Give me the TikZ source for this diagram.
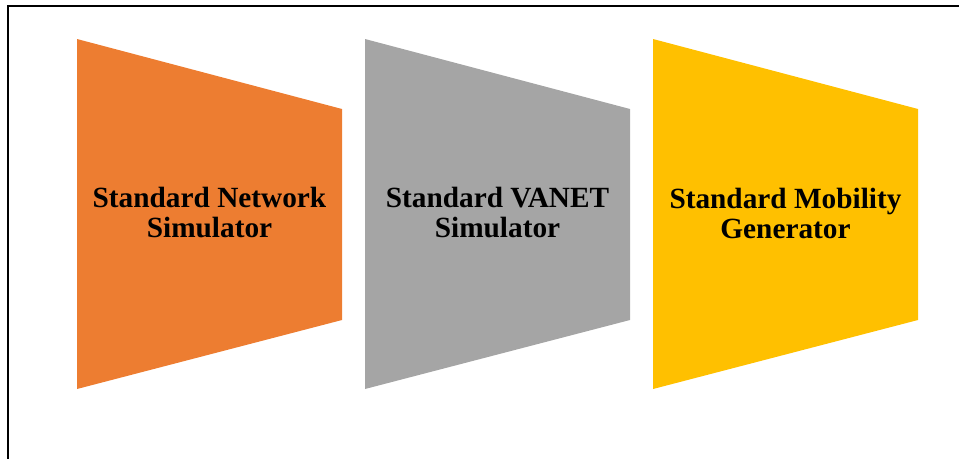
\documentclass[tikz,border=0pt]{standalone}
\usepackage{fontspec}
\setmainfont{Liberation Serif}
\definecolor{accOrange}{HTML}{ED7D31}
\definecolor{accGray}{HTML}{A5A5A5}
\definecolor{accGold}{HTML}{FFC000}
\begin{document}
\begin{tikzpicture}[x=1pt,y=-1pt,
  panel/.style={fill=#1,draw=none},
  caption/.style={font=\bfseries\fontsize{29.3}{30}\selectfont,align=center,text=black}]
\useasboundingbox (0,0) rectangle (959,459);
% frame: top and left rules
\draw[line width=1.6pt] (8,6) -- (959,6);
\draw[line width=2pt] (8,5.2) -- (8,459);
% three trapezoid panels
\fill[panel=accOrange] (77,39) -- (342,109) -- (342,320) -- (77,389) -- cycle;
\fill[panel=accGray] (365,39) -- (630,109) -- (630,320) -- (365,389) -- cycle;
\fill[panel=accGold] (653,39) -- (918,109) -- (918,320) -- (653,389) -- cycle;
\node[caption] (net) at (209.5,213) {Standard Network\\Simulator};
\node[caption] (vanet) at (497.5,213) {Standard VANET\\Simulator};
\node[caption] (mob) at (785.5,213) {Standard Mobility\\Generator};
\end{tikzpicture}
\end{document}
